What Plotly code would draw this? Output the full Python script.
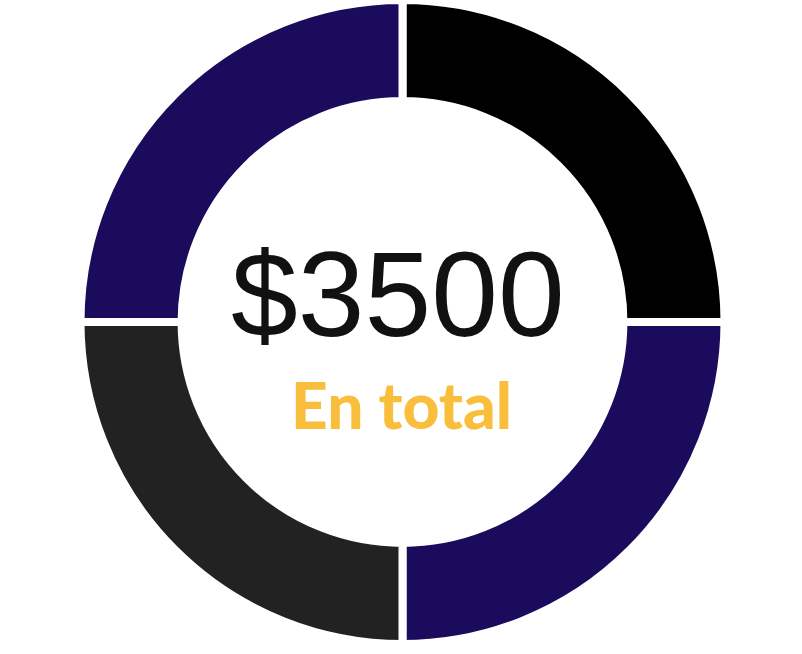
import plotly.graph_objects as go

labels = ["Segment 1", "Segment 2", "Segment 3", "Segment 4"]
values = [875, 875, 875, 875]
colors = ["#000000", "#1B0B5C", "#222222", "#1B0B5C"]
total_label = "$3500"
sub_label = "En total"

W, H = 802, 654
cx, cy, r = 402.5, 322.0, 322.0

fig = go.Figure(go.Pie(
    labels=labels,
    values=values,
    marker=dict(colors=colors, line=dict(color="white", width=8)),
    hole=0.686,
    sort=False,
    direction="clockwise",
    rotation=0,
    textinfo="none",
    hoverinfo="label+value",
    showlegend=False,
    domain=dict(x=[(cx - r) / W, (cx + r) / W], y=[(H - cy - r) / H, (H - cy + r) / H]),
))

fig.add_annotation(
    x=397.5 / W, y=(H - 294) / H, xref="paper", yref="paper",
    text=total_label, showarrow=False, xanchor="center", yanchor="middle",
    font=dict(family="Liberation Sans, Arial, sans-serif", size=120, color="#111111"),
)
fig.add_annotation(
    x=401.5 / W, y=(H - 404) / H, xref="paper", yref="paper",
    text=sub_label, showarrow=False, xanchor="center", yanchor="middle",
    font=dict(family="Lato, sans-serif", size=64, color="#F9BE3B", weight=900),
)

fig.update_layout(
    width=W, height=H,
    margin=dict(l=0, r=0, t=0, b=0),
    paper_bgcolor="white", plot_bgcolor="white",
)

fig.write_html("out.html")
